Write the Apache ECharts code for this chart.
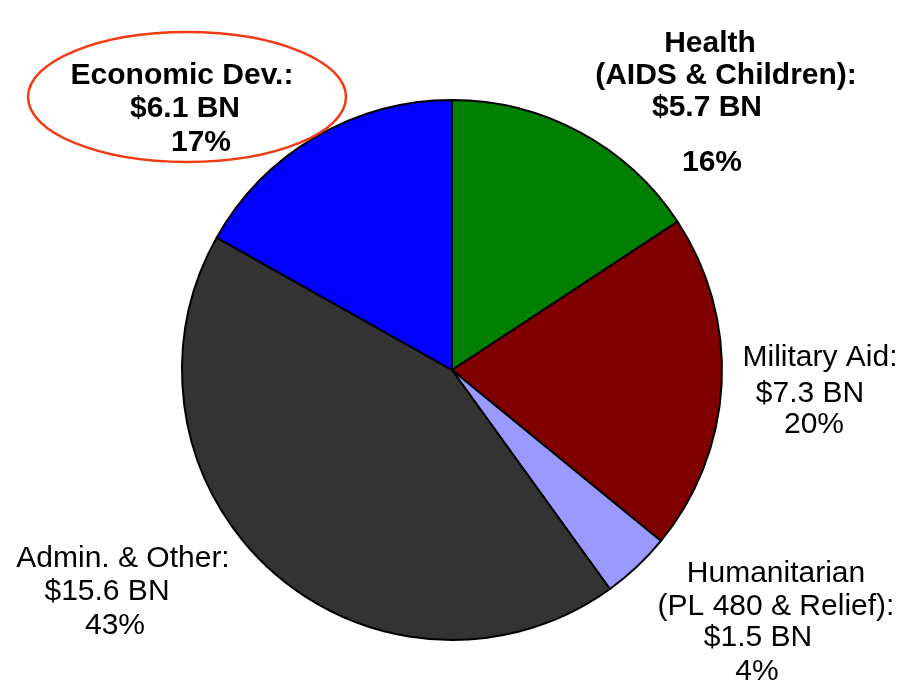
<!DOCTYPE html>
<html>
<head>
<meta charset="utf-8">
<script src="https://cdn.jsdelivr.net/npm/echarts@6/dist/echarts.min.js"></script>
<style>
  html, body { margin: 0; padding: 0; background: #fff; }
  #main { width: 904px; height: 687px; }
</style>
</head>
<body>
<div id="main"></div>
<script>
// slices, clockwise from 12 o'clock
var categories = ['Health (AIDS & Children)', 'Military Aid', 'Humanitarian (PL 480 & Relief)', 'Admin. & Other', 'Economic Dev.'];
var values = [5.7, 7.3, 1.5, 15.6, 6.1];
var percents = ['16%', '20%', '4%', '43%', '17%'];
var nameLines = [
  ['Health', '(AIDS & Children):'],
  ['Military Aid:'],
  ['Humanitarian', '(PL 480 & Relief):'],
  ['Admin. & Other:'],
  ['Economic Dev.:']
];
var colors = ['#008000', '#800000', '#9999ff', '#333333', '#0000ff'];

// label line centres (layout only)
var labelPos = [
  [[710, 44], [726, 76], [707, 108], [712, 163]],
  [[820, 358], [810, 394], [814, 425]],
  [[776, 574], [776, 607], [758, 638], [757, 672]],
  [[123, 559], [107, 592], [115, 626]],
  [[182, 76], [185, 109], [201, 143]]
];
var boldLabel = [true, false, false, false, true];

var myChart = echarts.init(document.getElementById('main'));

var graphics = [{
  type: 'ellipse',
  shape: { cx: 187, cy: 97, rx: 159, ry: 65 },
  style: { fill: 'none', stroke: '#f03c14', lineWidth: 2.5 },
  z: 5
}];

categories.forEach(function (c, i) {
  var lines = nameLines[i].concat(['$' + values[i] + ' BN', percents[i]]);
  lines.forEach(function (t, j) {
    graphics.push({
      type: 'text',
      x: labelPos[i][j][0],
      y: labelPos[i][j][1],
      z: 10,
      style: {
        text: t,
        fill: '#000',
        font: (boldLabel[i] ? 'bold ' : '') + '30px "Liberation Sans", Arial, sans-serif',
        textAlign: 'center',
        textVerticalAlign: 'middle'
      }
    });
  });
});

var option = {
  backgroundColor: '#fff',
  animation: false,
  graphic: graphics,
  series: [{
    type: 'pie',
    center: [452, 370],
    radius: 270,
    startAngle: 90,
    clockwise: true,
    label: { show: false },
    labelLine: { show: false },
    itemStyle: { borderColor: '#000', borderWidth: 2 },
    emphasis: { disabled: true },
    data: categories.map(function (c, i) {
      return { name: c, value: values[i], itemStyle: { color: colors[i] } };
    })
  }]
};

myChart.setOption(option);
</script>
</body>
</html>
